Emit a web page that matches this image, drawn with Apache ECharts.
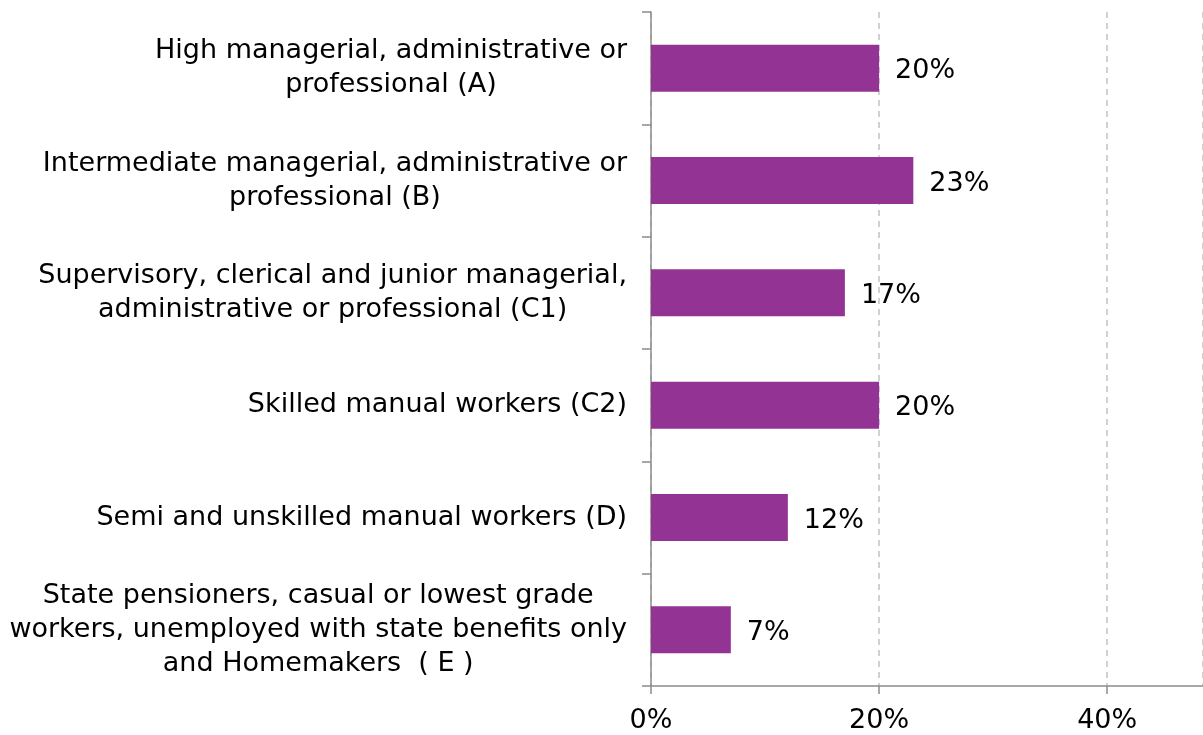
<!DOCTYPE html>
<html>
<head>
<meta charset="utf-8">
<script src="https://cdn.jsdelivr.net/npm/echarts@6/dist/echarts.min.js"></script>
<style>
  html, body { margin: 0; padding: 0; background: #fff; }
  #chart { width: 1203px; height: 735px; }
</style>
</head>
<body>
<div id="chart"></div>
<script>
// categories, top to bottom
const categories = [
  'High managerial, administrative or\nprofessional (A)',
  'Intermediate managerial, administrative or\nprofessional (B)',
  'Supervisory, clerical and junior managerial,\nadministrative or professional (C1)',
  'Skilled manual workers (C2)',
  'Semi and unskilled manual workers (D)',
  'State pensioners, casual or lowest grade\nworkers, unemployed with state benefits only\nand Homemakers  ( E )'
]
const shares = [20, 23, 17, 20, 12, 7]
const xTicks = [0, 20, 40]

const font = 'DejaVu Sans'
const chart = echarts.init(document.getElementById('chart'))
chart.setOption({
  animation: false,
  grid: { left: 651, right: 0, top: 12, bottom: 49 },
  xAxis: {
    type: 'value',
    min: xTicks[0],
    max: 48.4,
    interval: xTicks[1] - xTicks[0],
    axisLine: { show: true, lineStyle: { color: '#8c8c8c', width: 1.5 } },
    axisTick: { show: true, length: 8, lineStyle: { color: '#8c8c8c', width: 1.5 } },
    axisLabel: {
      showMaxLabel: false,
      margin: 21,
      fontFamily: font,
      fontSize: 27,
      color: '#000',
      formatter: v => v + '%'
    },
    splitLine: { show: true, lineStyle: { type: [6, 5], color: '#c0c4c4', width: 1.5 } }
  },
  yAxis: {
    type: 'category',
    inverse: true,
    data: categories,
    axisLine: { show: true, lineStyle: { color: '#8c8c8c', width: 1.5 } },
    axisTick: { show: true, length: 9, lineStyle: { color: '#8c8c8c', width: 1.5 } },
    axisLabel: {
      margin: 24,
      color: '#000',
      formatter: v => v.split('\n').map(s => '{c|' + s + '}').join('\n'),
      rich: {
        c: { align: 'center', fontFamily: font, fontSize: 27, lineHeight: 34, color: '#000' }
      }
    }
  },
  series: [{
    type: 'bar',
    data: shares,
    barWidth: 47,
    itemStyle: { color: '#933393' },
    label: {
      show: true,
      position: 'right',
      distance: 16,
      offset: [0, 3],
      fontFamily: font,
      fontSize: 27,
      color: '#000',
      formatter: p => p.value + '%'
    }
  }]
})
</script>
</body>
</html>
